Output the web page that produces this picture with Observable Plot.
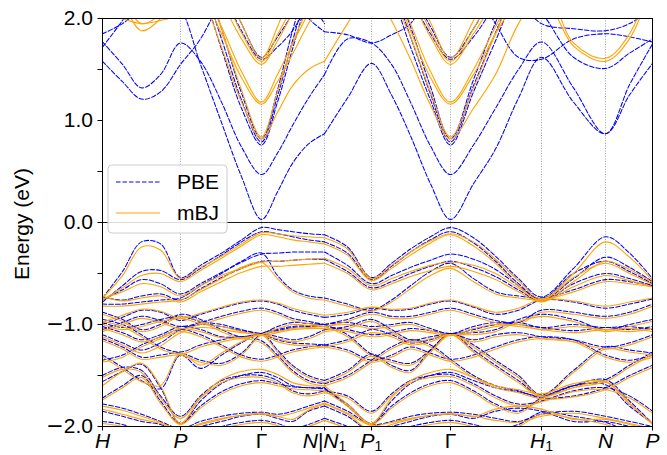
<!DOCTYPE html>
<html><head><meta charset="utf-8">
<script src="https://cdn.jsdelivr.net/npm/d3@7"></script>
<script src="https://cdn.jsdelivr.net/npm/@observablehq/plot@0.6"></script>
<style>body{margin:0;background:#fff}</style>
</head><body><div id="chart"></div>
<script>
// k-path sample positions: segment H..N (13 points) then N1..P (15 points)
const kPath = [0,0.2,0.39,0.58,0.78,0.98,1.19,1.39,1.59,1.75,1.9,2.06,2.22,
               2.22,2.45,2.69,2.89,3.08,3.28,3.48,3.71,3.93,4.16,4.39,4.71,5.03,5.27,5.5];
const segA = 13;
const tickK = [0,0.78,1.59,2.22,2.69,3.48,4.39,5.03,5.5];
const tickLabels = ["H","P","Γ","N|N₁","P₁","Γ","H₁","N","P"];
const yTicks = [-2,-1.5,-1,-0.5,0,0.5,1,1.5,2];
const methods = ["PBE","mBJ"];

// PBE conduction bands
const pbeC1 = [2.60,2.45,2.35,2.30,2.10,1.55,0.98,0.45,0.03,0.30,0.58,0.77,0.87, 0.87,1.22,1.56,1.25,0.85,0.38,0.03,0.38,0.72,1.22,1.62,1.18,0.87,1.25,1.56];
const pbeC2 = [1.77,1.55,1.32,1.45,1.76,1.58,1.18,0.74,0.47,0.68,0.95,1.22,1.45, 1.45,1.80,1.76,1.55,1.18,0.75,0.47,0.76,1.12,1.50,1.77,1.32,0.87,1.35,1.75];
const pbeC3 = [2.90,2.80,2.70,2.65,2.60,2.30,1.70,1.12,0.76,1.18,1.70,2.20,2.50, 2.60,2.50,2.40,2.20,1.72,1.20,0.76,1.28,1.78,2.30,2.60,2.40,2.30,2.40,2.60];
const pbeC4 = [3.00,2.90,2.80,2.70,2.70,2.38,1.80,1.20,0.79,1.24,1.78,2.28,2.60, 2.70,2.60,2.50,2.30,1.82,1.26,0.79,1.34,1.86,2.36,2.70,2.50,2.40,2.50,2.70];
const pbeC5 = [3.00,2.90,2.80,2.70,2.70,2.48,1.90,1.27,0.82,1.30,1.88,2.38,2.70, 2.80,2.70,2.60,2.40,1.92,1.33,0.82,1.40,1.96,2.44,2.80,2.60,2.50,2.60,2.80];
const pbeC6 = [3.20,3.10,3.00,3.00,3.00,2.85,2.30,1.88,1.60,1.72,1.88,2.15,2.40, 2.50,2.60,2.70,2.50,2.20,1.85,1.60,1.82,2.15,2.55,2.80,2.70,2.60,2.70,2.80];
const pbeC7 = [3.20,3.10,3.00,3.00,3.00,2.90,2.40,1.95,1.62,1.82,2.05,2.35,2.60, 2.60,2.70,2.80,2.60,2.30,1.92,1.62,1.90,2.30,2.70,2.90,2.80,2.70,2.80,2.90];
const pbeC8 = [1.58,1.38,1.21,1.28,1.55,1.80,2.20,2.60,2.80,2.50,2.20,2.00,1.87, 1.87,1.84,1.76,1.84,1.95,2.30,2.50,2.30,1.95,1.62,1.60,1.80,1.85,1.82,1.77];
const pbeC9 = [1.85,1.95,2.10,2.20,2.10,2.20,2.50,2.70,2.80,2.70,2.50,2.20,1.95, 2.50,2.40,2.30,2.40,2.60,2.70,2.70,2.60,2.40,2.20,2.05,1.62,1.51,1.66,1.80];
const pbeC10 = [1.72,1.98,2.25,2.30,2.20,2.50,2.80,3.00,3.10,3.00,2.80,2.40,2.05, 2.05,2.20,2.40,2.60,2.80,2.90,2.90,2.80,2.50,2.20,1.95,1.90,1.88,1.95,2.10];

// PBE valence bands
const pbeV1 = [-0.74,-0.48,-0.19,-0.21,-0.54,-0.42,-0.30,-0.17,-0.05,-0.07,-0.09,-0.11,-0.12, -0.12,-0.24,-0.54,-0.40,-0.26,-0.14,-0.05,-0.15,-0.33,-0.55,-0.73,-0.45,-0.14,-0.30,-0.55];
const pbeV2 = [-0.78,-0.62,-0.48,-0.47,-0.56,-0.45,-0.32,-0.19,-0.09,-0.11,-0.14,-0.17,-0.19, -0.19,-0.30,-0.56,-0.43,-0.29,-0.17,-0.09,-0.20,-0.38,-0.60,-0.76,-0.55,-0.34,-0.44,-0.58];
const pbeV3 = [-0.76,-0.66,-0.56,-0.60,-0.70,-0.60,-0.49,-0.39,-0.31,-0.30,-0.29,-0.29,-0.29, -0.29,-0.42,-0.60,-0.52,-0.44,-0.37,-0.31,-0.36,-0.46,-0.62,-0.75,-0.50,-0.38,-0.48,-0.60];
const pbeV4 = [-0.73,-0.76,-0.72,-0.70,-0.76,-0.65,-0.54,-0.45,-0.38,-0.38,-0.37,-0.36,-0.36, -0.36,-0.48,-0.64,-0.58,-0.50,-0.43,-0.38,-0.44,-0.53,-0.66,-0.77,-0.60,-0.50,-0.55,-0.62];
const pbeV5 = [-0.80,-0.80,-0.78,-0.76,-0.74,-0.62,-0.50,-0.38,-0.30,-0.52,-0.66,-0.72,-0.74, -0.74,-0.80,-0.86,-0.76,-0.62,-0.48,-0.40,-0.55,-0.68,-0.72,-0.74,-0.66,-0.56,-0.58,-0.62];
const pbeV6 = [-1.00,-0.93,-0.86,-0.88,-0.96,-0.90,-0.84,-0.79,-0.77,-0.80,-0.86,-0.90,-0.93, -0.93,-0.90,-0.84,-0.86,-0.85,-0.80,-0.77,-0.83,-0.90,-0.86,-0.76,-0.78,-0.84,-0.80,-0.75];
const pbeV7 = [-1.05,-0.98,-0.92,-0.96,-1.02,-0.98,-0.92,-0.87,-0.84,-0.88,-0.94,-0.97,-1.00, -1.00,-0.95,-0.88,-0.92,-0.92,-0.88,-0.84,-0.90,-0.96,-0.98,-0.86,-0.88,-0.92,-0.88,-0.80];
const pbeV8 = [-1.02,-1.08,-1.15,-1.10,-1.02,-1.05,-1.12,-1.12,-1.09,-1.02,-0.98,-0.99,-1.00, -1.00,-0.98,-1.02,-1.00,-0.98,-1.04,-1.09,-1.05,-1.00,-0.98,-1.03,-1.00,-1.03,-1.02,-1.05];
const pbeV9 = [-1.10,-1.18,-1.25,-1.18,-1.05,-1.00,-1.02,-1.06,-1.09,-1.15,-1.18,-1.19,-1.20, -1.20,-1.15,-1.05,-1.10,-1.18,-1.15,-1.09,-1.15,-1.10,-1.08,-1.12,-1.15,-1.22,-1.18,-1.10];
const pbeV10 = [-1.30,-1.42,-1.55,-1.63,-1.30,-1.43,-1.30,-1.18,-1.09,-1.25,-1.40,-1.50,-1.55, -1.55,-1.45,-1.29,-1.40,-1.45,-1.25,-1.09,-1.25,-1.40,-1.55,-1.70,-1.60,-1.54,-1.40,-1.27];
const pbeV11 = [-1.14,-1.22,-1.32,-1.30,-1.28,-1.35,-1.38,-1.28,-1.09,-1.05,-1.02,-1.01,-1.00, -1.00,-1.10,-1.29,-1.35,-1.38,-1.25,-1.09,-1.20,-1.35,-1.50,-1.69,-1.45,-1.22,-1.25,-1.28];
const pbeV12 = [-1.56,-1.46,-1.39,-1.62,-1.97,-1.75,-1.58,-1.50,-1.47,-1.52,-1.60,-1.62,-1.62, -1.62,-1.80,-1.97,-1.75,-1.58,-1.50,-1.47,-1.55,-1.62,-1.66,-1.70,-1.60,-1.59,-1.80,-1.97];
const pbeV13 = [-1.72,-1.60,-1.50,-1.75,-1.97,-1.80,-1.66,-1.58,-1.55,-1.58,-1.61,-1.62,-1.63, -1.63,-1.78,-1.97,-1.80,-1.67,-1.58,-1.55,-1.65,-1.78,-1.85,-1.72,-1.60,-1.54,-1.75,-1.97];
const pbeV14 = [-1.85,-1.90,-1.95,-1.98,-2.05,-2.00,-1.95,-1.90,-1.88,-1.92,-1.95,-1.85,-1.80, -1.80,-1.90,-2.05,-2.00,-1.95,-1.90,-1.88,-1.92,-1.85,-1.82,-1.85,-1.95,-1.95,-2.00,-2.05];
const pbeV15 = [-1.95,-1.98,-2.05,-2.10,-2.15,-2.08,-2.00,-1.96,-1.94,-1.97,-2.02,-1.98,-1.92, -1.92,-2.00,-2.10,-2.05,-2.00,-1.96,-1.94,-1.98,-2.02,-1.98,-1.86,-1.90,-1.96,-2.05,-2.10];
const pbeV16 = [-1.35,-1.30,-1.20,-1.12,-1.05,-1.10,-1.20,-1.30,-1.34,-1.30,-1.25,-1.22,-1.20, -1.20,-1.25,-1.35,-1.30,-1.22,-1.28,-1.34,-1.30,-1.22,-1.15,-1.12,-1.15,-1.30,-1.35,-1.30];
const pbeV17 = [-1.50,-1.42,-1.45,-1.70,-1.90,-1.70,-1.55,-1.50,-1.50,-1.55,-1.65,-1.68,-1.65, -1.65,-1.70,-1.85,-1.68,-1.55,-1.50,-1.49,-1.58,-1.70,-1.78,-1.75,-1.65,-1.62,-1.70,-1.85];
const pbeV18 = [-0.88,-0.95,-1.05,-1.00,-0.90,-0.95,-1.05,-1.12,-1.09,-1.12,-1.15,-1.12,-1.05, -1.05,-1.02,-0.95,-1.05,-1.15,-1.12,-1.09,-1.08,-1.05,-0.95,-0.90,-0.95,-1.05,-1.00,-0.95];
const pbeV19 = [-0.95,-1.00,-1.10,-1.22,-1.27,-1.20,-1.15,-1.12,-1.16,-1.30,-1.45,-1.55,-1.58, -1.58,-1.50,-1.35,-1.22,-1.15,-1.20,-1.34,-1.50,-1.60,-1.65,-1.72,-1.70,-1.62,-1.50,-1.40];
const pbeV20 = [-1.78,-1.82,-1.88,-1.95,-2.02,-1.95,-1.90,-1.87,-1.86,-1.88,-1.85,-1.80,-1.75, -1.75,-1.85,-1.98,-1.95,-1.90,-1.87,-1.86,-1.88,-1.92,-1.95,-1.88,-1.85,-1.90,-1.95,-2.00];
const pbeV21 = [-0.98,-1.03,-1.00,-0.95,-0.92,-0.97,-1.00,-1.05,-1.09,-1.06,-1.03,-1.02,-1.02, -1.02,-1.05,-1.10,-1.08,-1.04,-1.06,-1.09,-1.02,-0.98,-1.00,-1.03,-1.06,-1.03,-1.05,-1.02];

// mBJ conduction bands
const mbjC1 = [3.30,3.20,3.10,3.00,2.85,2.30,1.72,1.18,0.82,1.08,1.34,1.50,1.58, 1.58,1.95,2.30,1.98,1.60,1.15,0.82,1.12,1.45,1.95,2.25,1.73,1.58,1.80,2.35];
const mbjC2 = [3.30,3.20,3.10,3.00,2.90,2.45,1.90,1.30,0.84,1.28,1.75,2.10,2.30, 2.40,2.40,2.40,2.20,1.82,1.28,0.84,1.32,1.85,2.30,2.40,1.76,1.61,1.85,2.40];
const mbjC3 = [2.40,2.15,1.88,2.00,2.35,2.25,1.85,1.42,1.16,1.38,1.65,1.95,2.20, 2.20,2.40,2.45,2.30,1.88,1.42,1.16,1.45,1.85,2.20,2.45,2.30,2.20,2.30,2.45];
const mbjC4 = [2.50,2.20,1.95,2.05,2.40,2.30,1.92,1.48,1.18,1.45,1.75,2.05,2.30, 2.30,2.50,2.50,2.35,1.95,1.48,1.18,1.50,1.92,2.30,2.50,2.40,2.30,2.40,2.50];
const mbjC5 = [3.20,3.10,3.00,3.00,3.00,2.80,2.20,1.80,1.55,1.78,2.05,2.35,2.60, 2.70,2.60,2.60,2.50,2.20,1.82,1.55,1.85,2.20,2.60,2.80,2.70,2.60,2.70,2.80];
const mbjC6 = [3.20,3.10,3.00,3.00,3.00,2.85,2.30,1.86,1.58,1.84,2.12,2.40,2.70, 2.80,2.70,2.70,2.60,2.30,1.88,1.58,1.90,2.30,2.70,2.90,2.80,2.70,2.80,2.90];
const mbjC7 = [3.20,3.10,3.00,3.00,3.00,2.90,2.45,1.95,1.61,1.92,2.30,2.60,2.80, 2.90,2.80,2.80,2.70,2.40,1.96,1.61,1.98,2.40,2.80,3.00,2.90,2.80,2.90,3.00];
const mbjC8 = [2.10,2.00,1.95,1.98,2.05,2.40,2.80,3.00,3.10,3.00,2.80,2.50,2.20, 2.20,2.30,2.40,2.60,2.80,2.90,2.90,2.80,2.60,2.40,2.30,2.10,2.05,2.10,2.20];

// mBJ valence bands
const mbjV1 = [-0.74,-0.52,-0.24,-0.27,-0.55,-0.44,-0.33,-0.21,-0.10,-0.11,-0.13,-0.14,-0.15, -0.15,-0.26,-0.55,-0.42,-0.29,-0.18,-0.11,-0.19,-0.36,-0.57,-0.75,-0.50,-0.19,-0.34,-0.57];
const mbjV2 = [-0.76,-0.64,-0.52,-0.50,-0.58,-0.47,-0.35,-0.23,-0.12,-0.14,-0.17,-0.19,-0.21, -0.21,-0.32,-0.57,-0.45,-0.32,-0.20,-0.12,-0.23,-0.40,-0.62,-0.77,-0.58,-0.38,-0.46,-0.59];
const mbjV3 = [-0.75,-0.68,-0.60,-0.63,-0.72,-0.62,-0.52,-0.45,-0.39,-0.38,-0.37,-0.36,-0.35, -0.35,-0.45,-0.62,-0.55,-0.48,-0.42,-0.39,-0.42,-0.50,-0.64,-0.76,-0.54,-0.40,-0.50,-0.61];
const mbjV4 = [-0.72,-0.77,-0.74,-0.72,-0.78,-0.68,-0.58,-0.49,-0.43,-0.43,-0.42,-0.41,-0.40, -0.40,-0.50,-0.66,-0.60,-0.53,-0.47,-0.43,-0.48,-0.56,-0.68,-0.78,-0.63,-0.52,-0.57,-0.63];
const mbjV5 = [-0.82,-0.82,-0.80,-0.78,-0.76,-0.66,-0.55,-0.44,-0.39,-0.55,-0.68,-0.74,-0.76, -0.76,-0.82,-0.87,-0.78,-0.65,-0.52,-0.45,-0.58,-0.70,-0.74,-0.76,-0.68,-0.58,-0.60,-0.63];
const mbjV6 = [-0.98,-0.91,-0.85,-0.87,-0.94,-0.89,-0.83,-0.78,-0.76,-0.79,-0.84,-0.88,-0.91, -0.91,-0.88,-0.83,-0.85,-0.84,-0.79,-0.76,-0.82,-0.88,-0.84,-0.75,-0.77,-0.82,-0.78,-0.74];
const mbjV7 = [-1.07,-1.00,-0.94,-0.98,-1.04,-1.00,-0.94,-0.89,-0.86,-0.90,-0.96,-0.99,-1.02, -1.02,-0.97,-0.90,-0.94,-0.94,-0.90,-0.86,-0.92,-0.98,-1.00,-0.88,-0.90,-0.94,-0.90,-0.82];
const mbjV8 = [-1.04,-1.10,-1.17,-1.12,-1.04,-1.07,-1.13,-1.13,-1.10,-1.04,-1.00,-1.01,-1.02, -1.02,-1.00,-1.04,-1.02,-1.00,-1.06,-1.10,-1.07,-1.02,-1.00,-1.05,-1.02,-1.05,-1.04,-1.07];
const mbjV9 = [-1.12,-1.20,-1.28,-1.21,-1.08,-1.03,-1.05,-1.08,-1.10,-1.17,-1.20,-1.21,-1.22, -1.22,-1.17,-1.08,-1.12,-1.20,-1.17,-1.10,-1.17,-1.12,-1.10,-1.14,-1.17,-1.24,-1.20,-1.12];
const mbjV10 = [-1.32,-1.44,-1.56,-1.60,-1.28,-1.40,-1.28,-1.17,-1.10,-1.27,-1.42,-1.52,-1.57, -1.57,-1.47,-1.31,-1.42,-1.47,-1.27,-1.10,-1.27,-1.42,-1.57,-1.71,-1.62,-1.56,-1.42,-1.29];
const mbjV11 = [-1.16,-1.24,-1.34,-1.32,-1.30,-1.37,-1.40,-1.30,-1.10,-1.07,-1.04,-1.03,-1.02, -1.02,-1.12,-1.31,-1.37,-1.40,-1.27,-1.10,-1.22,-1.37,-1.52,-1.70,-1.47,-1.24,-1.27,-1.30];
const mbjV12 = [-1.60,-1.46,-1.38,-1.60,-1.97,-1.72,-1.54,-1.46,-1.44,-1.49,-1.57,-1.60,-1.60, -1.60,-1.78,-1.97,-1.72,-1.55,-1.47,-1.44,-1.52,-1.60,-1.64,-1.68,-1.58,-1.56,-1.78,-1.97];
const mbjV13 = [-1.74,-1.62,-1.52,-1.77,-1.98,-1.82,-1.68,-1.60,-1.57,-1.60,-1.63,-1.64,-1.65, -1.65,-1.80,-1.98,-1.82,-1.69,-1.60,-1.57,-1.67,-1.80,-1.87,-1.73,-1.62,-1.56,-1.77,-1.98];
const mbjV14 = [-1.83,-1.88,-1.93,-1.97,-2.04,-1.98,-1.93,-1.89,-1.87,-1.90,-1.93,-1.84,-1.78, -1.78,-1.88,-2.04,-1.98,-1.93,-1.89,-1.87,-1.90,-1.83,-1.80,-1.83,-1.93,-1.93,-1.98,-2.04];
const mbjV15 = [-1.97,-2.00,-2.06,-2.12,-2.16,-2.10,-2.02,-1.98,-1.96,-1.99,-2.04,-2.00,-1.94, -1.94,-2.02,-2.12,-2.07,-2.02,-1.98,-1.96,-2.00,-2.04,-2.00,-1.88,-1.92,-1.98,-2.07,-2.12];
const mbjV16 = [-1.37,-1.32,-1.22,-1.14,-1.07,-1.12,-1.22,-1.32,-1.36,-1.32,-1.27,-1.24,-1.22, -1.22,-1.27,-1.37,-1.32,-1.24,-1.30,-1.36,-1.32,-1.24,-1.17,-1.14,-1.17,-1.32,-1.37,-1.32];
const mbjV17 = [-1.52,-1.44,-1.47,-1.72,-1.92,-1.72,-1.57,-1.52,-1.52,-1.57,-1.67,-1.70,-1.67, -1.67,-1.72,-1.87,-1.70,-1.57,-1.52,-1.51,-1.60,-1.72,-1.80,-1.76,-1.66,-1.64,-1.72,-1.87];
const mbjV18 = [-0.90,-0.97,-1.07,-1.02,-0.92,-0.97,-1.07,-1.14,-1.10,-1.14,-1.17,-1.14,-1.07, -1.07,-1.04,-0.97,-1.07,-1.17,-1.14,-1.10,-1.10,-1.07,-0.97,-0.92,-0.97,-1.07,-1.02,-0.97];
const mbjV19 = [-0.97,-1.02,-1.12,-1.24,-1.29,-1.22,-1.17,-1.14,-1.18,-1.32,-1.47,-1.57,-1.60, -1.60,-1.52,-1.37,-1.24,-1.17,-1.22,-1.36,-1.52,-1.62,-1.67,-1.73,-1.71,-1.64,-1.52,-1.42];
const mbjV20 = [-1.80,-1.84,-1.90,-1.96,-2.03,-1.97,-1.92,-1.89,-1.88,-1.90,-1.87,-1.82,-1.77, -1.77,-1.87,-1.99,-1.96,-1.92,-1.89,-1.88,-1.90,-1.94,-1.96,-1.90,-1.87,-1.92,-1.97,-2.02];
const mbjV21 = [-1.00,-1.05,-1.02,-0.97,-0.94,-0.99,-1.02,-1.07,-1.11,-1.08,-1.05,-1.04,-1.04, -1.04,-1.07,-1.12,-1.10,-1.06,-1.08,-1.11,-1.04,-1.00,-1.02,-1.05,-1.08,-1.05,-1.07,-1.04];

const pbeBands = [pbeC1,pbeC2,pbeC3,pbeC4,pbeC5,pbeC6,pbeC7,pbeC8,pbeC9,pbeC10,
  pbeV1,pbeV2,pbeV3,pbeV4,pbeV5,pbeV6,pbeV7,pbeV8,pbeV9,pbeV10,pbeV11,pbeV12,pbeV13,pbeV14,pbeV15,pbeV16,
  pbeV17,pbeV18,pbeV19,pbeV20,pbeV21];
const mbjBands = [mbjC1,mbjC2,mbjC3,mbjC4,mbjC5,mbjC6,mbjC7,mbjC8,
  mbjV1,mbjV2,mbjV3,mbjV4,mbjV5,mbjV6,mbjV7,mbjV8,mbjV9,mbjV10,mbjV11,mbjV12,mbjV13,mbjV14,mbjV15,mbjV16,
  mbjV17,mbjV18,mbjV19,mbjV20,mbjV21];

function toRows(bands, method) {
  const out = [];
  bands.forEach((vals, b) => vals.forEach((e, i) =>
    out.push({k: kPath[i], e, method, z: method + b + (i < segA ? "a" : "b")})));
  return out;
}
const pbeRows = toRows(pbeBands, methods[0]);
const mbjRows = toRows(mbjBands, methods[1]);

const FONT = "Liberation Sans, Arial, Helvetica, sans-serif";
const fmtY = d => Number.isInteger(d) ? (d < 0 ? "−" : "") + Math.abs(d).toFixed(1) : "";
const labelOf = new Map(tickK.map((k, i) => [k, tickLabels[i]]));

const plot = Plot.plot({
  width: 667, height: 455,
  marginLeft: 102, marginRight: 15, marginTop: 18, marginBottom: 29,
  x: {domain: [0, 5.5]},
  y: {domain: [-2, 2]},
  style: {fontFamily: FONT, fontSize: "21px", background: "white", color: "black", overflow: "visible"},
  marks: [
    Plot.ruleX(tickK.slice(1, -1), {stroke: "#888", strokeWidth: 0.8, strokeDasharray: "1,1.6"}),
    Plot.line(pbeRows, {x: "k", y: "e", z: "z", stroke: "#0000ff", strokeWidth: 1.05,
      strokeDasharray: "4.5,2", curve: "catmull-rom", clip: true}),
    Plot.line(mbjRows, {x: "k", y: "e", z: "z", stroke: "#ffa500", strokeWidth: 1.1,
      curve: "catmull-rom", clip: true}),
    Plot.ruleY([0], {stroke: "black", strokeWidth: 0.9}),
    Plot.frame({stroke: "black", strokeWidth: 1}),
    Plot.axisY(yTicks, {tickSize: 4.5, tickPadding: 5, tickFormat: fmtY, label: null, fontSize: 21}),
    Plot.axisX(tickK, {tickSize: 4.5, tickPadding: 2.5, tickFormat: d => labelOf.get(d), label: null, fontSize: 21})
  ]
});
document.getElementById("chart").appendChild(plot);

const svg = d3.select(plot);
// x tick labels: italic letters, subscript 1
svg.selectAll('g[aria-label="x-axis tick label"] text').each(function () {
  const s = this.textContent;
  const t = d3.select(this);
  t.text(null);
  for (const ch of s) {
    if (ch === "₁") t.append("tspan").attr("font-size", "14px").attr("dy", "0.16em").text("1");
    else if (/[A-Z]/.test(ch)) t.append("tspan").attr("font-style", "italic").text(ch);
    else t.append("tspan").text(ch);
  }
});
// y tick labels: long minus sign
svg.selectAll('g[aria-label="y-axis tick label"] text').each(function () {
  const s = this.textContent;
  if (s.startsWith("−")) {
    const t = d3.select(this);
    t.text(null);
    t.append("tspan").attr("font-family", "DejaVu Sans").text("−");
    t.append("tspan").text(s.slice(1));
  }
});
// y axis title
svg.append("text").attr("transform", "translate(29,224) rotate(-90)")
  .attr("text-anchor", "middle").attr("font-family", FONT).attr("font-size", 21)
  .attr("fill", "black").text("Energy (eV)");
// legend
const lg = svg.append("g").attr("font-family", FONT).attr("font-size", 21).attr("text-anchor", "start");
lg.append("rect").attr("x", 108).attr("y", 165).attr("width", 119).attr("height", 68).attr("rx", 4)
  .attr("fill", "white").attr("fill-opacity", 0.85).attr("stroke", "#cccccc").attr("stroke-width", 1);
lg.append("line").attr("x1", 116).attr("x2", 160).attr("y1", 182).attr("y2", 182)
  .attr("stroke", "#0000ff").attr("stroke-width", 1.05).attr("stroke-dasharray", "4.5,2");
lg.append("text").attr("x", 177).attr("y", 182).attr("dy", "0.35em").attr("fill", "black").text(methods[0]);
lg.append("line").attr("x1", 116).attr("x2", 160).attr("y1", 213).attr("y2", 213)
  .attr("stroke", "#ffa500").attr("stroke-width", 1.1);
lg.append("text").attr("x", 177).attr("y", 213).attr("dy", "0.35em").attr("fill", "black").text(methods[1]);
</script></body></html>
